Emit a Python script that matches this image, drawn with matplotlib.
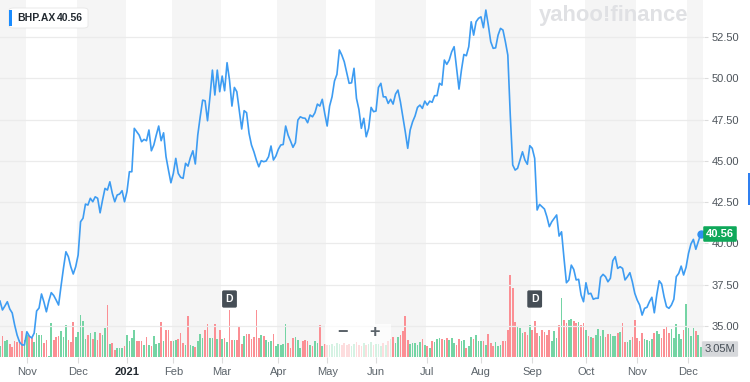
import numpy as np
import matplotlib
matplotlib.use("Agg")
import matplotlib.pyplot as plt
from matplotlib.patches import FancyBboxPatch, Rectangle
import matplotlib.transforms as mtransforms

plt.rcParams['font.family'] = ['Liberation Sans', 'DejaVu Sans']

# BHP.AX daily close (AUD), one value per trading day, mid Oct 2020 -> early Dec 2021
price = [36.50, 35.96, 36.20, 36.46, 36.02, 35.78, 35.05, 34.44, 34.02, 33.84,
         33.84, 34.64, 34.38, 34.26, 34.56, 35.90, 36.08, 36.93, 36.44, 35.85,
         36.50, 37.01, 36.84, 36.56, 36.26, 37.41, 38.50, 39.49, 39.19, 38.58,
         38.14, 38.58, 39.29, 41.31, 41.52, 42.38, 42.32, 42.73, 42.52, 42.82,
         42.73, 41.85, 42.62, 43.33, 43.23, 43.73, 43.03, 42.52, 42.93, 42.99,
         43.19, 42.52, 43.13, 44.34, 44.34, 46.97, 46.76, 46.56, 46.16, 46.30,
         46.22, 46.87, 45.61, 45.96, 46.56, 47.11, 46.22, 46.70, 45.25, 44.44,
         43.67, 44.24, 45.15, 44.24, 44.00, 43.94, 44.85, 44.68, 45.21, 45.61,
         44.81, 46.56, 47.67, 48.68, 48.64, 47.43, 48.88, 50.50, 48.99, 50.50,
         49.19, 50.14, 49.25, 50.95, 49.90, 48.32, 49.45, 49.19, 48.08, 46.93,
         48.04, 47.92, 46.67, 45.96, 45.55, 45.05, 44.64, 45.01, 44.95, 44.99,
         45.25, 45.90, 45.05, 45.29, 45.70, 45.96, 45.99, 47.11, 46.56, 46.20,
         45.82, 46.10, 47.47, 47.67, 47.60, 47.58, 47.31, 47.78, 47.67, 47.92,
         48.44, 48.32, 48.73, 47.88, 47.11, 48.32, 48.88, 49.84, 50.24, 51.72,
         51.41, 51.01, 50.34, 49.70, 49.73, 50.61, 48.79, 48.12, 46.97, 47.58,
         46.46, 46.97, 48.24, 47.98, 48.02, 49.45, 49.70, 48.88, 48.88, 48.48,
         48.73, 48.44, 49.05, 49.29, 48.58, 47.67, 46.76, 45.76, 46.87, 47.37,
         47.72, 48.24, 48.38, 48.18, 48.62, 48.38, 48.62, 48.55, 48.95, 48.95,
         49.70, 49.59, 51.11, 50.85, 51.11, 51.61, 51.92, 50.61, 49.35, 50.50,
         51.45, 51.37, 51.92, 53.43, 52.62, 53.43, 53.64, 53.73, 53.07, 54.14,
         53.23, 52.22, 51.82, 51.85, 52.62, 53.03, 52.93, 52.22, 51.41, 47.78,
         44.75, 44.44, 44.55, 45.05, 45.55, 45.05, 44.79, 45.92, 45.76, 45.15,
         42.02, 42.36, 42.22, 42.08, 41.61, 41.01, 41.31, 41.52, 41.72, 40.44,
         40.70, 39.11, 37.61, 37.78, 38.68, 38.42, 37.78, 37.82, 36.87, 36.46,
         37.61, 36.93, 36.97, 36.61, 36.67, 36.67, 37.94, 38.12, 37.98, 37.67,
         37.88, 38.95, 39.19, 38.48, 38.58, 38.48, 37.78, 37.98, 38.22, 37.67,
         36.97, 36.56, 36.26, 35.65, 36.06, 36.12, 36.46, 36.73, 35.79, 36.87,
         37.73, 37.53, 36.76, 36.16, 36.06, 36.26, 36.61, 37.98, 38.18, 38.62,
         38.08, 38.55, 39.39, 39.96, 40.24, 39.64, 40.10, 40.56]

# daily volume, millions of shares
volume = [3.4, 6.3, 4.8, 5.1, 4.1, 3.0, 4.8, 4.5, 5.1, 7.8,
          5.1, 6.8, 6.5, 5.8, 4.5, 7.3, 6.8, 6.8, 4.3, 5.3,
          0.4, 10.4, 5.1, 6.1, 6.3, 8.0, 6.1, 9.9, 5.1, 4.5,
          10.6, 6.1, 7.5, 12.9, 10.9, 5.5, 6.8, 7.3, 5.5, 7.5,
          5.1, 7.3, 6.8, 8.8, 16.0, 4.1, 4.3, 2.2, 2.7, 2.7,
          2.7, 3.3, 6.8, 4.8, 5.8, 8.1, 4.8, 4.8, 5.0, 3.8,
          6.1, 3.8, 3.4, 6.3, 4.1, 4.3, 10.6, 4.8, 8.3, 8.1,
          4.8, 5.0, 5.3, 5.5, 7.3, 4.3, 3.8, 12.4, 3.8, 3.3,
          3.05, 4.8, 7.0, 5.8, 8.3, 10.1, 5.8, 5.8, 10.2, 5.5,
          8.3, 5.5, 5.8, 4.6, 14.2, 5.3, 5.1, 5.3, 9.5, 4.0,
          6.3, 7.0, 7.0, 5.5, 6.1, 14.4, 5.8, 6.8, 6.5, 5.1,
          4.5, 4.8, 7.1, 3.4, 4.1, 3.8, 4.1, 10.1, 4.3, 2.7,
          5.8, 6.1, 5.3, 2.7, 4.8, 5.3, 4.8, 3.8, 3.3, 4.8,
          4.3, 9.9, 3.3, 4.1, 3.8, 3.8, 4.0, 3.5, 4.2, 3.9,
          3.6, 4.4, 3.7, 4.1, 3.5, 3.9, 4.6, 3.8, 3.4, 4.2,
          3.7, 4.0, 4.5, 3.6, 3.9, 4.1, 3.5, 4.3, 3.8, 4.9,
          5.4, 6.0, 4.3, 6.1, 6.8, 7.8, 12.6, 5.1, 4.1, 4.3,
          4.3, 3.8, 4.5, 5.5, 3.8, 3.3, 2.7, 4.8, 4.5, 5.5,
          5.8, 5.5, 5.1, 5.8, 5.3, 5.8, 4.3, 3.8, 5.5, 4.8,
          5.1, 2.7, 3.4, 6.1, 5.5, 6.8, 4.8, 5.0, 4.8, 3.8,
          7.1, 4.3, 3.4, 4.5, 3.4, 3.8, 4.8, 4.8, 8.3, 25.0,
          21.0, 10.6, 9.4, 8.8, 7.3, 7.5, 6.8, 9.9, 8.3, 10.9,
          7.3, 6.3, 8.3, 7.5, 6.8, 8.3, 4.8, 7.8, 5.8, 9.9,
          18.0, 11.2, 10.4, 11.4, 11.6, 10.9, 10.4, 10.6, 9.9, 10.4,
          8.3, 6.5, 6.1, 5.8, 6.8, 8.5, 6.3, 8.3, 6.1, 7.1,
          7.1, 6.5, 6.3, 7.3, 7.5, 10.4, 4.5, 4.5, 5.1, 6.1,
          11.2, 5.8, 4.8, 7.3, 5.5, 5.1, 4.8, 5.5, 7.3, 7.8,
          7.1, 5.8, 8.5, 9.2, 7.3, 8.5, 5.8, 10.2, 7.1, 5.5,
          8.3, 16.3, 8.8, 6.3, 8.8, 7.8, 6.8, 3.05]

# first trading day of each month (index into the series)
month_start = [11, 32, 52, 71, 91, 114, 134, 154, 175, 197, 218, 240, 261, 282]
month_label = ['Nov', 'Dec', '2021', 'Feb', 'Mar', 'Apr', 'May', 'Jun',
               'Jul', 'Aug', 'Sep', 'Oct', 'Nov', 'Dec']
price_ticks = [35.0, 37.5, 40.0, 42.5, 45.0, 47.5, 50.0, 52.5]
dividend_days = [94, 219]

ticker = 'BHP.AX'
last_volume_label = '3.05M'

days = np.arange(len(price))
price = np.array(price)
volume = np.array(volume)

W, H = 750, 382
fig = plt.figure(figsize=(W / 100, H / 100), dpi=100)
ax_left, ax_right, ax_bottom = 0, 704, 357
rect = [ax_left / W, (H - ax_bottom) / H, (ax_right - ax_left) / W, ax_bottom / H]
xmax = ax_right / (700.7 / (len(price) - 1))

# bottom layer: month shading + volume bars
vax = fig.add_axes(rect)
vax.set_xlim(0, xmax)
vax.set_ylim(0, ax_bottom * 0.305)
edges = [0] + month_start + [xmax]
for k in range(len(edges) - 1):
    if k % 2 == 0:
        vax.axvspan(max(edges[k] - 0.5, 0), min(edges[k + 1] - 0.5, xmax),
                    color='#f5f5f5', lw=0, zorder=0)
up = np.r_[True, np.diff(price) >= 0]
bar_cols = np.where(up, '#74d4a4', '#fb8f94')
vax.bar(days, volume, width=0.68, color=bar_cols, lw=0, zorder=2)
vax.axis('off')

# top layer: price
ax = fig.add_axes(rect)
ax.patch.set_visible(False)
ax.set_xlim(0, xmax)
ax.set_ylim(33.11, 54.75)
for t in price_ticks:
    ax.axhline(t, color='#ebebeb', lw=0.9, zorder=1)
ax.plot(days, price, color='#3d9cf2', lw=1.2, zorder=5, solid_joinstyle='round')
ax.plot(days[-1], price[-1], 'o', ms=5, color='#2f8ff0', zorder=6)

for s in ax.spines.values():
    s.set_visible(False)
ax.yaxis.tick_right()
ax.set_yticks(price_ticks)
ax.set_yticklabels(['%.2f' % t for t in price_ticks])
ax.tick_params(axis='y', length=3, color='#dcdcdc', pad=2.5, labelsize=8, labelcolor='#4d545b')
ax.set_xticks(month_start)
ax.set_xticklabels(month_label)
ax.tick_params(axis='x', length=4, color='#dcdcdc', pad=3, labelsize=8, labelcolor='#5b636a')
for lab in ax.get_xticklabels():
    if lab.get_text() == '2021':
        lab.set_fontweight('bold')
        lab.set_color('#232a31')

# dividend markers
trans = mtransforms.blended_transform_factory(ax.transData, ax.transAxes)
for d in dividend_days:
    ax.text(d, 1 - 299 / ax_bottom, 'D', transform=trans, ha='center', va='center',
            fontsize=7.5, fontweight='bold', color='white', zorder=7,
            bbox=dict(boxstyle='round,pad=0.35,rounding_size=0.15', fc='#464e56', ec='none'))

# last price tag and last volume tag
fig.text(720 / W, 1 - 234 / H, '%.2f' % price[-1], ha='center', va='center', fontsize=8,
         fontweight='bold', color='white',
         bbox=dict(boxstyle='round,pad=0.25,rounding_size=0.1', fc='#0fa85a', ec='none'))
fig.text(720 / W, 1 - 349 / H, last_volume_label, ha='center', va='center', fontsize=8,
         color='#464e56',
         bbox=dict(boxstyle='round,pad=0.25,rounding_size=0.1', fc='#d6d8db', ec='none'))

# zoom controls
fig.patches.append(Rectangle((325 / W, 1 - 357 / H), 66 / W, 33 / H, transform=fig.transFigure,
                             fc='white', ec='none', alpha=0.7, zorder=10))
fig.text(342 / W, 1 - 333 / H, '\u2212', ha='center', va='center', fontsize=13,
         fontweight='bold', color='#5b636a', zorder=11)
fig.text(375 / W, 1 - 333 / H, '+', ha='center', va='center', fontsize=13,
         fontweight='bold', color='#5b636a', zorder=11)

# legend chip
fig.patches.append(FancyBboxPatch((9 / W, 1 - 28 / H), 79 / W, 20 / H,
                                  boxstyle='round,pad=0,rounding_size=0.006',
                                  transform=fig.transFigure, fc='white', ec='#e6e6e6',
                                  lw=0.6, zorder=10))
fig.patches.append(Rectangle((9 / W, 1 - 26 / H), 3 / W, 16 / H, transform=fig.transFigure,
                             fc='#1a8cff', ec='none', zorder=11))
fig.text(17 / W, 1 - 18 / H, ticker, ha='left', va='center', fontsize=7.5,
         fontweight='bold', color='#232a31', zorder=12)
fig.text(57 / W, 1 - 18 / H, '%.2f' % price[-1], ha='left', va='center', fontsize=7.5,
         fontweight='bold', color='#232a31', zorder=12)

# watermark
fig.text(688 / W, 1 - 15 / H, 'yahoo!finance', ha='right', va='center', fontsize=15.8,
         fontweight='bold', color='#e0e1e4', zorder=3)

# sliver of ui at right edge
fig.patches.append(Rectangle((748 / W, 1 - 205 / H), 2 / W, 32 / H, transform=fig.transFigure,
                             fc='#2f7ff0', ec='none'))

fig.savefig('out.png', dpi=100)
